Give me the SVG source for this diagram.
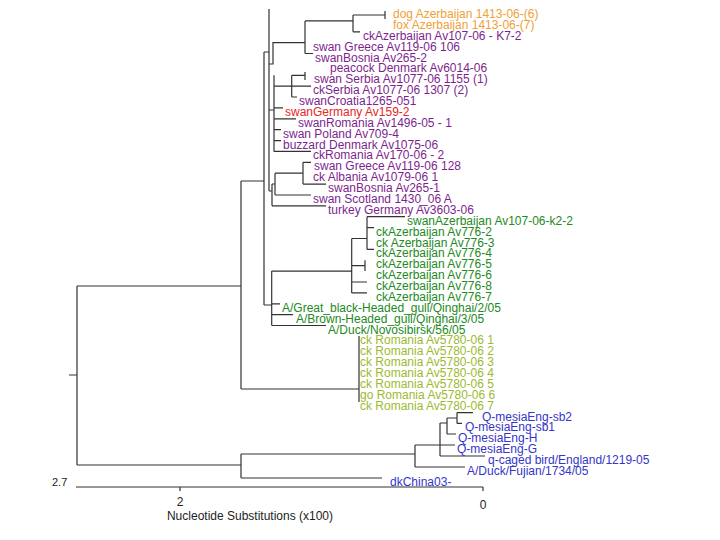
<svg xmlns="http://www.w3.org/2000/svg" width="720" height="540" viewBox="0 0 720 540">
<style>
text{font-family:"Liberation Sans",Arial,sans-serif;font-size:12px}
.or{fill:#f0a035}.pu{fill:#7e1f8f}.rd{fill:#e8251f}.dg{fill:#228a22}.lg{fill:#9bbb2f}.bl{fill:#3535c8}
.ax{fill:#222}
#edges path{fill:none;stroke:#333;stroke-width:1.2}
</style>
<rect width="720" height="540" fill="#fff"/>
<g id="edges">
<path d="M69,375H77M77,286V465M77,286H241M77,465H241M241,181V389M241,181H264M241,389H359M359,336V402"/>
<path d="M241,454V478M241,454H415M241,478H382M415,445V467M415,467H465M415,445H440M440,423V456M440,456H485M440,445H455M440,423H447M447,418V434M447,434H456M447,418H457M457,412.6V423.4M457,412.6H473M457,423.4H462"/>
<path d="M264,52V305M264,52H269M269,9V191M269,64H273V42.6H305M305,20.9V53.5M305,53.5H313M305,20.9H353M353,15V31.8M353,15H385M385,11V19M353,31.8H360"/>
<path d="M269,110H274M274,75.3V151.4M274,86.2H311M291.7,75.3V97M291.7,75.3H305M305,72V80M291.7,97H297M274,107.9H283M274,118.8H296M274,129.7H281M274,140.6H281M274,151.4H311"/>
<path d="M269,191H272M272,184V205.8M272,205.8H326M272,184H275M275,173.2V195M275,195H311M275,173.2H303M303,162.3V184.1M303,162.3H311M303,184.1H326"/>
<path d="M264,305H271.7M271.7,271.1V325.5M271.7,271.1H351.7M351.7,238.5V292.9M351.7,238.5H367M367,216.7V249.4M367,216.7H405M367,227.6H374M367,249.4H374M351.7,265.6H365M365,260.2V271.1M351.7,282H367M351.7,292.9H367M271.7,303.8H280M271.7,314.6H293M271.7,325.5H326"/>
<path d="M76,487H483M180,487V491M483,487V491"/>
</g>
<g id="n1"><text class="or" x="393" y="18">dog Azerbaijan 1413-06-(6)</text></g>
<g id="n2"><text class="or" x="393" y="28.9">fox Azerbaijan 1413-06-(7)</text></g>
<g id="n3"><text class="pu" x="363" y="39.8">ckAzerbaijan Av107-06 - K7-2</text></g>
<g id="n4"><text class="pu" x="313" y="50.6">swan Greece Av119-06 106</text></g>
<g id="n5"><text class="pu" x="315" y="61.5">swanBosnia Av265-2</text></g>
<g id="n6"><text class="pu" x="330" y="72.4">peacock Denmark Av6014-06</text></g>
<g id="n7"><text class="pu" x="314" y="83.3">swan Serbia Av1077-06 1155 (1)</text></g>
<g id="n8"><text class="pu" x="313" y="94.2">ckSerbia Av1077-06 1307 (2)</text></g>
<g id="n9"><text class="pu" x="299" y="105">swanCroatia1265-051</text></g>
<g id="n10"><text class="rd" x="285" y="115.9">swanGermany Av159-2</text></g>
<g id="n11"><text class="pu" x="298" y="126.8">swanRomania Av1496-05 - 1</text></g>
<g id="n12"><text class="pu" x="283" y="137.7">swan Poland Av709-4</text></g>
<g id="n13"><text class="pu" x="283" y="148.6">buzzard Denmark Av1075-06</text></g>
<g id="n14"><text class="pu" x="313" y="159.4">ckRomania Av170-06 - 2</text></g>
<g id="n15"><text class="pu" x="314" y="170.3">swan Greece Av119-06 128</text></g>
<g id="n16"><text class="pu" x="313" y="181.2">ck Albania Av1079-06 1</text></g>
<g id="n17"><text class="pu" x="328" y="192.1">swanBosnia Av265-1</text></g>
<g id="n18"><text class="pu" x="313" y="203">swan Scotland 1430_06 A</text></g>
<g id="n19"><text class="pu" x="328" y="213.8">turkey Germany Av3603-06</text></g>
<g id="n20"><text class="dg" x="407" y="224.7">swanAzerbaijan Av107-06-k2-2</text></g>
<g id="n21"><text class="dg" x="376" y="235.6">ckAzerbaijan Av776-2</text></g>
<g id="n22"><text class="dg" x="376" y="246.5">ck Azerbaijan Av776-3</text></g>
<g id="n23"><text class="dg" x="376" y="257.4">ckAzerbaijan Av776-4</text></g>
<g id="n24"><text class="dg" x="376" y="268.2">ckAzerbaijan Av776-5</text></g>
<g id="n25"><text class="dg" x="376" y="279.1">ckAzerbaijan Av776-6</text></g>
<g id="n26"><text class="dg" x="376" y="290">ckAzerbaijan Av776-8</text></g>
<g id="n27"><text class="dg" x="376" y="300.9">ckAzerbaijan Av776-7</text></g>
<g id="n28"><text class="dg" x="282" y="311.8">A/Great_black-Headed_gull/Qinghai/2/05</text></g>
<g id="n29"><text class="dg" x="296" y="322.6">A/Brown-Headed_gull/Qinghai/3/05</text></g>
<g id="n30"><text class="dg" x="328" y="333.5">A/Duck/Novosibirsk/56/05</text></g>
<g id="n31"><text class="lg" x="360" y="344.4">ck Romania Av5780-06 1</text></g>
<g id="n32"><text class="lg" x="360" y="355.3">ck Romania Av5780-06 2</text></g>
<g id="n33"><text class="lg" x="360" y="366.2">ck Romania Av5780-06 3</text></g>
<g id="n34"><text class="lg" x="360" y="377">ck Romania Av5780-06 4</text></g>
<g id="n35"><text class="lg" x="360" y="387.9">ck Romania Av5780-06 5</text></g>
<g id="n36"><text class="lg" x="360" y="398.8">go Romania Av5780-06 6</text></g>
<g id="n37"><text class="lg" x="360" y="409.7">ck Romania Av5780-06 7</text></g>
<g id="n38"><text class="bl" x="482" y="420.6">Q-mesiaEng-sb2</text></g>
<g id="n39"><text class="bl" x="465" y="431.4">Q-mesiaEng-sb1</text></g>
<g id="n40"><text class="bl" x="458" y="442.3">Q-mesiaEng-H</text></g>
<g id="n41"><text class="bl" x="457" y="453.2">Q-mesiaEng-G</text></g>
<g id="n42"><text class="bl" x="488" y="464.1">q-caged bird/England/1219-05</text></g>
<g id="n43"><text class="bl" x="467" y="475">A/Duck/Fujian/1734/05</text></g>
<g id="n44"><text class="bl" x="390" y="485.8">dkChina03-</text></g>
<g id="axis">
<text class="ax" x="52" y="486" style="font-size:11px">2.7</text>
<text class="ax" x="180" y="506" text-anchor="middle">2</text>
<text class="ax" x="483" y="509" text-anchor="middle">0</text>
<text class="ax" x="250" y="519.5" text-anchor="middle">Nucleotide Substitutions (x100)</text>
</g>
</svg>
